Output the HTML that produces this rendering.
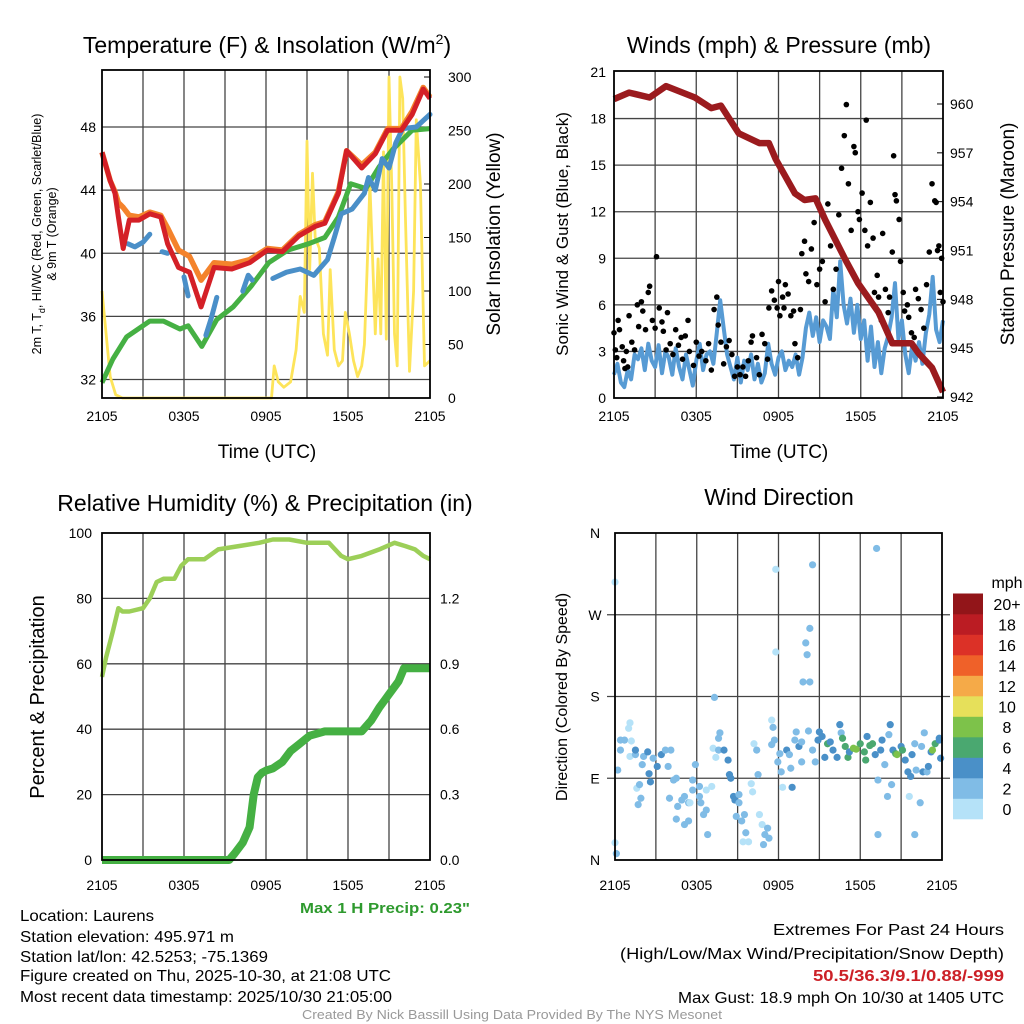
<!DOCTYPE html>
<html><head><meta charset="utf-8"><style>
html,body{margin:0;padding:0;background:#fff;}
svg{display:block;font-family:"Liberation Sans",sans-serif;}
</style></head><body>
<svg id="fig" width="1024" height="1024" viewBox="0 0 1024 1024">
<g id="p1"></g>
<g id="p2"></g>
<g id="p3"></g>
<g id="p4"></g>
<g id="txt">
<text x="267" y="53" font-size="23" text-anchor="middle">Temperature (F) &amp; Insolation (W/m<tspan dy="-9" font-size="14">2</tspan><tspan dy="9">)</tspan></text>
<text x="779" y="53" font-size="23" text-anchor="middle">Winds (mph) &amp; Pressure (mb)</text>
<text x="265" y="511" font-size="23" text-anchor="middle">Relative Humidity (%) &amp; Precipitation (in)</text>
<text x="779" y="505" font-size="23" text-anchor="middle">Wind Direction</text>
<text x="267" y="458" font-size="19" text-anchor="middle">Time (UTC)</text>
<text x="779" y="458" font-size="19" text-anchor="middle">Time (UTC)</text>
<text transform="translate(41,234) rotate(-90)" font-size="12.5" text-anchor="middle">2m T, T<tspan dy="4" font-size="9">d</tspan><tspan dy="-4">, HI/WC (Red, Green, Scarlet/Blue)</tspan></text>
<text transform="translate(56,234) rotate(-90)" font-size="12.5" text-anchor="middle">&amp; 9m T (Orange)</text>
<text transform="translate(500,234) rotate(-90)" font-size="19" text-anchor="middle">Solar Insolation (Yellow)</text>
<text transform="translate(568,234) rotate(-90)" font-size="17" text-anchor="middle">Sonic Wind &amp; Gust (Blue, Black)</text>
<text transform="translate(1014,234) rotate(-90)" font-size="19" text-anchor="middle">Station Pressure (Maroon)</text>
<text transform="translate(44,697) rotate(-90)" font-size="20" text-anchor="middle">Percent &amp; Precipitation</text>
<text transform="translate(567,697) rotate(-90)" font-size="16" text-anchor="middle">Direction (Colored By Speed)</text>
<text x="385" y="913" font-size="15" font-weight="bold" fill="#2e9a2e" text-anchor="middle" textLength="170" lengthAdjust="spacingAndGlyphs">Max 1 H Precip: 0.23"</text>
<text x="20" y="921" font-size="16" textLength="134" lengthAdjust="spacingAndGlyphs">Location: Laurens</text>
<text x="20" y="942" font-size="16" textLength="214" lengthAdjust="spacingAndGlyphs">Station elevation: 495.971 m</text>
<text x="20" y="962" font-size="16" textLength="248" lengthAdjust="spacingAndGlyphs">Station lat/lon: 42.5253; -75.1369</text>
<text x="20" y="981" font-size="16" textLength="371" lengthAdjust="spacingAndGlyphs">Figure created on Thu, 2025-10-30, at 21:08 UTC</text>
<text x="20" y="1002" font-size="16" textLength="372" lengthAdjust="spacingAndGlyphs">Most recent data timestamp: 2025/10/30 21:05:00</text>
<text x="1004" y="935" font-size="16" text-anchor="end" textLength="231" lengthAdjust="spacingAndGlyphs">Extremes For Past 24 Hours</text>
<text x="1004" y="959" font-size="16" text-anchor="end" textLength="384" lengthAdjust="spacingAndGlyphs">(High/Low/Max Wind/Precipitation/Snow Depth)</text>
<text x="1004" y="981" font-size="16" font-weight="bold" fill="#cc2027" text-anchor="end" textLength="191" lengthAdjust="spacingAndGlyphs">50.5/36.3/9.1/0.88/-999</text>
<text x="1004" y="1003" font-size="16" text-anchor="end" textLength="326" lengthAdjust="spacingAndGlyphs">Max Gust: 18.9 mph On 10/30 at 1405 UTC</text>
<text x="512" y="1019" font-size="13" fill="#999" text-anchor="middle" textLength="420" lengthAdjust="spacingAndGlyphs">Created By Nick Bassill Using Data Provided By The NYS Mesonet</text>
</g>
</svg>
<script>
// ---------- data ----------
const xTickLabels = ["2105","0305","0905","1505","2105"];
// Temperature panel
const redT = [0,0.6,0.95,1.2,1.55,2.0,2.7,3.5,4.3,4.8,5.6,6.4,7.25,8.2,9.5,10.8,12.1,13.2,14.4,15.6,16.3,17.3,17.9,19.0,20.0,20.9,21.9,22.7,23.5,24];
const redV = [46.4,44.6,43.8,42.3,40.3,42.1,42.1,42.5,42.3,40.6,39.1,38.8,36.6,39.1,39.0,39.4,40.2,40.1,41.1,41.7,41.9,43.8,46.5,45.4,46.3,47.8,47.8,48.8,50.4,49.8];
const orangeV = [46.4,44.6,43.9,43.2,42.9,42.4,42.3,42.6,42.4,41.6,40.2,39.8,38.3,39.4,39.3,39.6,40.3,40.2,41.2,41.8,42.0,43.9,46.5,45.6,46.4,47.9,47.9,49.0,50.5,49.9];
const greenT = [0,0.8,1.8,3.5,4.5,5.7,6.3,7.3,8.4,9.6,10.9,12.2,13.6,15.1,16.3,17.3,18.2,19.3,20.3,21.3,22.7,24];
const greenV = [31.8,33.3,34.7,35.7,35.7,35.2,35.4,34.1,35.8,36.6,37.9,39.4,40.2,40.6,41.0,42.3,44.4,44.1,45.5,46.6,47.8,47.9];
const blueT = [1.9,2.4,3.0,3.5,null,4.4,4.8,null,6.0,6.3,null,7.6,8.0,8.4,null,10.3,10.7,11.0,null,12.5,13.5,14.5,15.5,16.5,17.0,17.5,18.3,19.2,19.5,20.0,20.5,21.0,21.5,22.0,23.0,24];
const blueV = [40.6,40.4,40.7,41.2,null,40.1,40.0,null,38.5,37.3,null,34.8,35.9,37.2,null,37.6,38.6,38.3,null,38.4,38.8,39.0,38.6,39.6,41.0,42.5,42.8,43.8,44.8,44.0,46.0,45.4,47.0,47.9,48.0,48.8];
const solT = [0,0.3,0.6,1.0,1.5,12.4,12.6,12.9,13.3,13.8,14.2,14.5,14.8,15.0,15.2,15.4,15.6,15.9,16.2,16.5,16.7,17.0,17.3,17.6,17.8,18.1,18.4,18.7,19.0,19.2,19.4,19.6,19.8,20.0,20.2,20.4,20.6,20.8,21.0,21.2,21.4,21.6,21.8,22.0,22.2,22.5,22.8,23.0,23.3,23.6,24];
const solV = [100,60,20,3,0,0,30,15,10,15,45,95,80,240,120,210,150,140,60,40,120,45,30,35,80,60,35,20,30,50,120,200,130,60,130,60,230,55,300,200,60,30,300,280,170,25,100,260,200,30,35];
// Winds panel
const presT = [0,1.1,2.6,3.8,5.9,7.1,7.8,9.1,10.6,11.3,11.8,13.2,13.9,14.7,15.4,16.9,17.8,19.3,20.3,21.7,22.2,23.2,23.9,24];
const presV = [960.3,960.7,960.4,961.1,960.4,959.75,959.9,958.2,957.6,957.6,956.6,954.5,954.1,954.2,952.9,950.4,949.0,947.2,945.3,945.3,944.7,943.8,942.5,942.3];
const windV = [1.5,2.2,1.0,0.7, 1.8,1.2,2.8,2.5, 3.2,1.8,3.5,2.4, 2.0,3.4,1.6,3.0, 2.6,1.5,3.2,2.0, 1.2,2.8,1.8,0.8, 2.4,3.5,1.8,2.8, 3.0,2.2,4.2,6.3, 4.5,2.8,2.0,1.2, 2.6,1.0,2.4,1.8, 2.8,1.2,2.2,1.0, 1.6,3.5,2.2,1.5, 2.6,3.0,1.8,2.4, 2.0,2.8,1.5,2.6, 4.5,5.5,4.0,5.2, 3.6,5.0,4.6,3.8, 7.0,5.2,8.8,6.0, 4.8,6.4,4.2,6.0, 3.8,5.0,2.4,4.6, 2.0,3.6,1.6,3.2, 4.0,5.2,7.4,3.8, 5.0,2.8,1.6,3.4, 2.4,3.6,2.2,4.2, 5.4,7.8,4.4,3.6, 5.0];
const gustT = [0,0.1,0.2,0.3,0.4,0.6,0.7,0.8,0.9,1.0,1.1,1.3,1.5,1.7,1.8,2.0,2.1,2.3,2.5,2.6,2.8,3.0,3.1,3.3,3.5,3.6,3.8,3.9,4.1,4.3,4.5,4.7,4.9,5.0,5.2,5.4,5.5,5.8,6.0,6.2,6.4,6.7,6.9,7.1,7.3,7.5,7.6,7.8,8.0,8.2,8.4,8.6,8.8,9.0,9.2,9.4,9.6,9.8,10.0,10.1,10.4,10.6,10.8,11.0,11.2,11.3,11.5,11.7,11.9,12.0,12.1,12.3,12.4,12.5,12.7,12.9,13.1,13.2,13.4,13.6,13.7,13.9,14.0,14.2,14.4,14.6,14.8,15.0,15.2,15.4,15.6,15.8,16.0,16.2,16.4,16.6,16.8,16.95,17.1,17.3,17.5,17.6,17.8,17.9,18.1,18.3,18.4,18.5,18.7,18.9,19.0,19.2,19.3,19.5,19.6,19.8,20.0,20.1,20.3,20.4,20.5,20.6,20.8,20.9,21.1,21.2,21.4,21.5,21.7,21.9,22.0,22.2,22.4,22.6,22.8,23.0,23.2,23.4,23.5,23.6,23.7,23.8,23.9,24.0];
const gustV = [4.2,3.1,2.6,5.0,4.4,3.3,2.4,1.9,3.0,2.0,5.3,3.6,3.1,6.0,4.6,6.2,5.6,4.4,6.8,7.2,5.0,4.5,9.1,5.8,4.9,4.3,3.1,5.5,3.5,2.8,4.4,3.4,3.9,2.5,4.0,5.0,3.0,2.1,3.6,2.7,3.0,2.4,3.5,1.8,5.7,6.5,4.7,3.6,2.2,3.3,3.7,2.8,1.4,2.0,1.5,2.0,1.4,2.4,3.6,4.0,2.6,1.5,4.1,3.5,2.5,5.8,6.9,6.3,5.8,7.5,5.3,6.5,5.8,7.3,6.7,5.3,5.6,3.5,2.6,5.7,9.3,10.1,8.0,7.5,9.6,11.3,7.3,8.3,8.8,6.2,12.5,9.8,7.0,8.3,11.8,14.8,16.9,18.9,13.8,10.8,16.2,15.8,12.0,11.5,13.2,10.8,17.9,9.8,12.6,10.3,6.8,7.9,6.5,5.0,10.6,7.0,5.5,6.5,9.4,15.6,13.1,12.7,11.5,8.8,6.8,5.6,6.0,5.2,4.2,3.9,7.0,6.4,5.7,4.5,7.3,9.4,13.8,12.7,12.6,9.5,9.8,6.8,9.0,6.2];
// Humidity panel
const rhT = [0,0.3,0.8,1.2,1.5,2.0,3.0,3.5,4.0,4.5,5.3,5.8,6.3,7.5,8.5,10.0,11.5,12.5,13.7,15.0,16.6,17.5,18.0,19.0,20.3,21.4,22.2,22.9,23.5,24];
const rhV = [56,62,70,77,76,76,77,80,85,86,86,90,92,92,95,96,97,98,98,97,97,93,92,93,95,97,96,95,93,92];
const prT = [0,9.3,9.7,10.3,10.8,11.1,11.4,11.7,12.0,12.5,13.2,13.8,14.4,15.2,16.3,19.0,19.7,20.3,21.0,21.7,22.1,24];
const prV = [0,0,0.03,0.08,0.15,0.3,0.38,0.4,0.41,0.42,0.45,0.5,0.53,0.57,0.59,0.59,0.64,0.7,0.76,0.82,0.88,0.88];
// Direction panel
const dirT = [0,0,0.1,0.2,0.4,0.7,1.1,1.0,1.2,0.4,1.1,1.5,1.5,1.6,1.8,1.9,1.7,2.1,2.0,2.4,2.5,2.6,2.8,3.1,3.4,3.7,3.9,4.1,4.0,4.3,4.5,4.5,4.6,4.9,5.1,5.4,5.4,5.1,5.5,5.9,5.7,5.7,6.2,6.2,6.3,6.5,6.7,6.8,7.1,6.7,7.2,7.3,7.4,7.6,7.7,7.6,8.0,8.3,8.4,8.5,8.7,8.9,8.8,9.1,9.1,9.3,9.5,9.6,9.4,9.8,10.0,10.1,10.2,10.4,10.5,10.6,10.8,11.0,11.2,11.3,10.9,11.5,11.6,11.7,11.5,11.8,11.8,11.95,12.2,12.1,12.3,12.6,12.8,13.0,12.9,13.2,13.3,13.5,13.7,13.7,13.8,14.0,14.1,14.3,14.3,14.5,14.2,14.5,14.7,14.9,15.0,15.2,15.4,15.6,15.8,16.0,16.3,16.5,16.6,16.7,16.9,17.1,17.2,17.5,17.7,18.0,18.3,18.4,18.5,18.7,18.9,19.1,19.2,19.3,19.3,19.5,19.6,19.8,20.0,20.1,20.2,20.3,20.4,20.6,20.7,21.0,21.1,21.3,21.5,21.6,21.7,21.8,22.0,22.0,22.1,22.4,22.5,22.7,22.6,22.9,23.0,23.2,23.3,23.5,23.8,23.9,23.8];
const dirV = [306,19,7,99,132,132,151,145,131,121,114,116,121,79,83,68,61,114,105,119,95,86,112,103,116,121,103,121,68,88,90,45,59,66,70,63,43,39,63,105,88,77,81,70,63,50,55,28,81,77,123,179,113,134,140,121,121,110,94,90,70,48,66,72,63,43,50,30,20,20,84,75,128,121,94,50,39,28,35,24,17,154,146,132,127,320,229,108,97,117,80,121,116,80,101,132,141,125,130,108,196,239,226,255,196,325,142,121,108,132,141,136,113,128,130,121,113,149,140,134,125,113,119,123,122,128,119,110,136,126,128,116,343,28,88,121,132,105,70,138,149,83,121,117,116,125,121,110,97,70,92,116,28,128,99,63,125,140,97,97,103,119,121,128,134,112,132];
const dirS = [1,1,2,2,2,2,1,1,1,2,1,2,4,1,2,2,2,2,2,4,4,4,2,4,4,2,2,2,2,2,2,2,2,2,2,2,2,2,1,2,2,2,2,2,2,2,2,2,1,1,1,2,1,2,2,2,4,4,4,4,4,2,4,2,2,2,2,2,1,1,1,1,1,2,2,1,1,2,2,2,2,1,2,2,2,1,1,2,2,2,1,4,2,4,2,2,2,4,2,2,2,2,2,2,2,2,2,2,2,4,4,4,4,6,4,4,4,4,2,6,6,6,4,8,8,6,6,6,4,6,6,4,2,2,2,4,4,2,2,2,4,2,4,6,8,4,6,4,4,1,4,4,2,2,2,2,2,2,4,2,4,4,8,6,4,4,4];
const cbarLabels = ["0","2","4","6","8","10","12","14","16","18","20+"];
const cbarColors = ["#b5e2f8","#80bce6","#4a90c8","#4aa870","#7dc24a","#e6e05a","#f5aa48","#ef6129","#dc3127","#bb1c23","#921519"];

// ---------- helpers ----------
const NS="http://www.w3.org/2000/svg";
function el(parent,tag,attrs){const e=document.createElementNS(NS,tag);for(const k in attrs)e.setAttribute(k,attrs[k]);parent.appendChild(e);return e;}
function lin(d0,d1,r0,r1){return v=>r0+(v-d0)*(r1-r0)/(d1-d0);}
function pathFrom(ts,vs,sx,sy){let d="",pen=false;for(let i=0;i<ts.length;i++){if(ts[i]===null||vs[i]===null){pen=false;continue;}d+=(pen?"L":"M")+sx(ts[i]).toFixed(1)+","+sy(vs[i]).toFixed(1);pen=true;}return d;}
function frame(g,L,R,T,B,sx,off){
  for(let h=3;h<24;h+=3){const l=el(g,"line",{x1:sx(h),x2:sx(h),y1:T,y2:B,stroke:"#444","stroke-width":1.3});
    
    }
  xTickLabels.forEach((lab,i)=>{const t=el(g,"text",{x:sx(i*6),y:B+off,"font-size":14,"text-anchor":"middle"});t.textContent=lab;
    
    });
}
function border(g,L,R,T,B){const r=el(g,"rect",{x:L,y:T,width:R-L,height:B-T,fill:"none",stroke:"#000","stroke-width":1.8});
  
  }
function hgrid(g,L,R,y){const l=el(g,"line",{x1:L,x2:R,y1:y,y2:y,stroke:"#444","stroke-width":1.3});
  
  }
function ylabel(g,x,y,txt,anchor,name){const t=el(g,"text",{x:x,y:y+5,"font-size":14,"text-anchor":anchor});t.textContent=txt;
  
  }

// ---------- panel 1 ----------
(function(){
 const g=document.getElementById("p1");const L=102,R=430,T=70,B=398;
 const sx=lin(0,24,L,R), sy=lin(32,48,379.5,127), sr=lin(0,300,398,77);
 frame(g,L,R,T,B,sx,23);
 [32,36,40,44,48].forEach(v=>{hgrid(g,L,R,sy(v));ylabel(g,L-6,sy(v),String(v),"end","temp-tick-label");});
 [0,50,100,150,200,250,300].forEach(v=>{ylabel(g,R+18,sr(v),String(v),"start","insolation-tick-label");el(g,"line",{x1:R,x2:R-6,y1:sr(v),y2:sr(v),stroke:"#000"});});
 const s=el(g,"path",{d:pathFrom(solT,solV,sx,sr),fill:"none",stroke:"#fde45a","stroke-width":2.8,"stroke-linejoin":"round"});
 
 
 const o=el(g,"path",{d:pathFrom(redT,orangeV,sx,sy),fill:"none",stroke:"#f4832c","stroke-width":5.5,"stroke-linejoin":"round"});
 
 
 const gr=el(g,"path",{d:pathFrom(greenT,greenV,sx,sy),fill:"none",stroke:"#45b043","stroke-width":5,"stroke-linejoin":"round"});
 
 
 const b=el(g,"path",{d:pathFrom(blueT,blueV,sx,sy),fill:"none",stroke:"#4a8fc8","stroke-width":5,"stroke-linejoin":"round","stroke-linecap":"round"});
 
 
 const r=el(g,"path",{d:pathFrom(redT,redV,sx,sy),fill:"none",stroke:"#d42027","stroke-width":5,"stroke-linejoin":"round"});
 
 
 border(g,L,R,T,B);
})();

// ---------- panel 2 ----------
(function(){
 const g=document.getElementById("p2");const L=614,R=943,T=71,B=398;
 const sx=lin(0,24,L,R), sy=lin(0,21,398,72), sp=lin(942,960,397,104);
 frame(g,L,R,T,B,sx,23);
 [0,3,6,9,12,15,18,21].forEach(v=>{if(v>0&&v<21)hgrid(g,L,R,sy(v));ylabel(g,L-8,sy(v),String(v),"end","wind-tick-label");});
 [942,945,948,951,954,957,960].forEach(v=>{ylabel(g,R+7,sp(v),String(v),"start","pressure-tick-label");el(g,"line",{x1:R,x2:R-6,y1:sp(v),y2:sp(v),stroke:"#000"});});
 const wt=windV.map((v,i)=>i*0.25);
 const w=el(g,"path",{d:pathFrom(wt,windV,sx,sy),fill:"none",stroke:"#579bd4","stroke-width":4,"stroke-linejoin":"round"});
 
 
 gustT.forEach((t,i)=>{const c=el(g,"circle",{cx:sx(t),cy:sy(gustV[i]),r:2.8,fill:"#000"});
   
   });
 const p=el(g,"path",{d:pathFrom(presT,presV,sx,sp),fill:"none",stroke:"#9b1b1e","stroke-width":6.5,"stroke-linejoin":"round"});
 
 
 border(g,L,R,T,B);
})();

// ---------- panel 3 ----------
(function(){
 const g=document.getElementById("p3");const L=102,R=430,T=533,B=860;
 const sx=lin(0,24,L,R), sy=lin(0,100,860,533), sp=lin(0,1.5,860,533);
 frame(g,L,R,T,B,sx,30);
 [0,20,40,60,80,100].forEach(v=>{if(v>0&&v<100)hgrid(g,L,R,sy(v));ylabel(g,L-10,sy(v),String(v),"end","humidity-tick-label");});
 [0,0.3,0.6,0.9,1.2].forEach(v=>{ylabel(g,R+10,sp(v),v.toFixed(1),"start","precip-tick-label");});
 const rh=el(g,"path",{d:pathFrom(rhT,rhV,sx,sy),fill:"none",stroke:"#9ccf58","stroke-width":4.5,"stroke-linejoin":"round"});
 
 
 const pr=el(g,"path",{d:pathFrom(prT,prV,sx,sp),fill:"none",stroke:"#45b043","stroke-width":8,"stroke-linejoin":"round"});
 
 
 border(g,L,R,T,B);
})();

// ---------- panel 4 ----------
(function(){
 const g=document.getElementById("p4");const L=615,R=942,T=533,B=860;
 const sx=lin(0,24,L,R), sy=lin(0,360,860,533);
 frame(g,L,R,T,B,sx,30);
 [["N",0],["E",90],["S",180],["W",270],["N",360]].forEach(a=>{if(a[1]>0&&a[1]<360)hgrid(g,L-8,R+8,sy(a[1]));ylabel(g,L-20,sy(a[1]),a[0],"middle","direction-tick-label");});
 const col=s=>cbarColors[Math.min(10,Math.floor(s/2))];
 dirT.forEach((t,i)=>{const c=el(g,"circle",{cx:sx(t),cy:sy(dirV[i]),r:3.6,fill:col(dirS[i])});
   
   });
 border(g,L,R,T,B);
 const cb=el(g,"g",{});
 
 
 const cy0=819,ch=20.5;
 cbarColors.forEach((c,i)=>{const r=el(cb,"rect",{x:953,y:cy0-(i+1)*ch,width:30,height:ch+0.3,fill:c});
   
   
   const t=el(cb,"text",{x:1007,y:cy0-(i+0.5)*ch+6,"font-size":16,"text-anchor":"middle"});t.textContent=cbarLabels[i];
   
   });
 const u=el(cb,"text",{x:1007,y:588,"font-size":16,"text-anchor":"middle"});u.textContent="mph";
 
 
})();
</script>
</body></html>
